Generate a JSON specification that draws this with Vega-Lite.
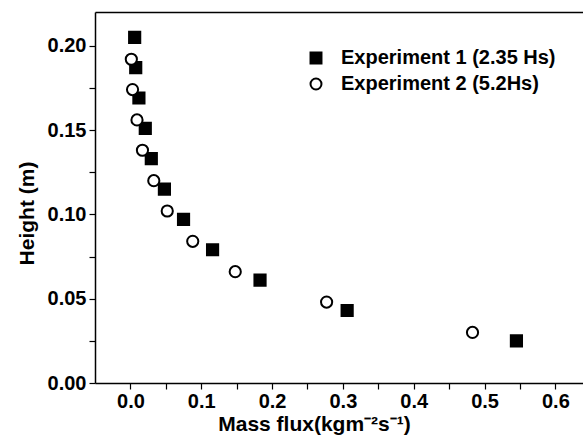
{
  "$schema": "https://vega.github.io/schema/vega-lite/v6.json",
  "autosize": {"type": "none"},
  "width": 488,
  "height": 371,
  "padding": {"left": 95, "top": 12, "right": 0, "bottom": 55},
  "background": "white",
  "config": {
    "view": {"stroke": null},
    "font": "Liberation Sans",
    "axis": {
      "labelFont": "Liberation Sans",
      "labelFontWeight": "bold",
      "labelFontSize": 20,
      "labelColor": "black",
      "titleFont": "Liberation Sans",
      "titleFontWeight": "bold",
      "titleFontSize": 21,
      "titleColor": "black",
      "domainColor": "black",
      "domainWidth": 1.5,
      "ticks": true,
      "tickColor": "black",
      "tickOpacity": 1,
      "tickWidth": 1.2,
      "grid": false
    },
    "legend": {
      "labelFont": "Liberation Sans",
      "labelFontWeight": "bold",
      "labelFontSize": 20,
      "labelColor": "black",
      "labelLimit": 0
    }
  },
  "data": {
    "values": [
      {"series": "Experiment 1 (2.35 Hs)", "flux": 0.006, "height": 0.205},
      {"series": "Experiment 1 (2.35 Hs)", "flux": 0.0075, "height": 0.187},
      {"series": "Experiment 1 (2.35 Hs)", "flux": 0.012, "height": 0.169},
      {"series": "Experiment 1 (2.35 Hs)", "flux": 0.021, "height": 0.151},
      {"series": "Experiment 1 (2.35 Hs)", "flux": 0.0295, "height": 0.133},
      {"series": "Experiment 1 (2.35 Hs)", "flux": 0.048, "height": 0.115},
      {"series": "Experiment 1 (2.35 Hs)", "flux": 0.075, "height": 0.097},
      {"series": "Experiment 1 (2.35 Hs)", "flux": 0.116, "height": 0.079},
      {"series": "Experiment 1 (2.35 Hs)", "flux": 0.183, "height": 0.061},
      {"series": "Experiment 1 (2.35 Hs)", "flux": 0.306, "height": 0.043},
      {"series": "Experiment 1 (2.35 Hs)", "flux": 0.545, "height": 0.025},
      {"series": "Experiment 2 (5.2Hs)", "flux": 0.0013, "height": 0.192},
      {"series": "Experiment 2 (5.2Hs)", "flux": 0.003, "height": 0.174},
      {"series": "Experiment 2 (5.2Hs)", "flux": 0.0093, "height": 0.156},
      {"series": "Experiment 2 (5.2Hs)", "flux": 0.017, "height": 0.138},
      {"series": "Experiment 2 (5.2Hs)", "flux": 0.033, "height": 0.12},
      {"series": "Experiment 2 (5.2Hs)", "flux": 0.052, "height": 0.102},
      {"series": "Experiment 2 (5.2Hs)", "flux": 0.088, "height": 0.084},
      {"series": "Experiment 2 (5.2Hs)", "flux": 0.148, "height": 0.066},
      {"series": "Experiment 2 (5.2Hs)", "flux": 0.277, "height": 0.048},
      {"series": "Experiment 2 (5.2Hs)", "flux": 0.483, "height": 0.03}
    ]
  },
  "layer": [
    {
      "mark": {"type": "point", "strokeWidth": 2, "opacity": 1},
      "encoding": {
        "x": {
          "field": "flux", "type": "quantitative",
          "scale": {"domain": [-0.05, 0.639], "nice": false, "zero": false},
          "axis": {
            "orient": "bottom",
            "title": "Mass flux(kgm⁻²s⁻¹)",
            "titleX": 219,
            "values": [0, 0.05, 0.1, 0.15, 0.2, 0.25, 0.3, 0.35, 0.4, 0.45, 0.5, 0.55, 0.6],
            "labelExpr": "abs(datum.value*10 - round(datum.value*10)) < 0.001 ? format(datum.value, '.1f') : ''",
            "tickSize": 6,
            "labelPadding": 2,
            "titlePadding": 2,
            "labelFlush": false,
            "labelOverlap": false,
            "encode": {"ticks": {"update": {"y2": {"signal": "abs(datum.value*10 - round(datum.value*10)) < 0.001 ? -6 : -3"}}}}
          }
        },
        "y": {
          "field": "height", "type": "quantitative",
          "scale": {"domain": [0, 0.22], "nice": false},
          "axis": {
            "title": "Height (m)",
            "titleY": 201,
            "values": [0, 0.025, 0.05, 0.075, 0.1, 0.125, 0.15, 0.175, 0.2],
            "labelExpr": "abs(datum.value*20 - round(datum.value*20)) < 0.001 ? format(datum.value, '.2f') : ''",
            "tickSize": 6,
            "labelPadding": 3,
            "titlePadding": 10,
            "labelFlush": false,
            "labelOverlap": false,
            "encode": {"ticks": {"update": {"x2": {"signal": "abs(datum.value*20 - round(datum.value*20)) < 0.001 ? 6 : 5"}}}}
          }
        },
        "shape": {
          "field": "series", "type": "nominal",
          "scale": {"domain": ["Experiment 1 (2.35 Hs)", "Experiment 2 (5.2Hs)"], "range": ["square", "circle"]},
          "legend": {
            "title": null,
            "orient": "none",
            "legendX": 211,
            "legendY": 36,
            "symbolSize": 120,
            "symbolStrokeWidth": 2,
            "rowPadding": 6,
            "labelOffset": 15,
            "labelLimit": 0,
            "padding": 0
          }
        },
        "fill": {
          "field": "series", "type": "nominal",
          "scale": {"domain": ["Experiment 1 (2.35 Hs)", "Experiment 2 (5.2Hs)"], "range": ["black", "white"]},
          "legend": {
            "title": null,
            "orient": "none",
            "legendX": 211,
            "legendY": 36,
            "symbolSize": 120,
            "symbolStrokeWidth": 2,
            "rowPadding": 6,
            "labelOffset": 15,
            "labelLimit": 0,
            "padding": 0
          }
        },
        "stroke": {
          "field": "series", "type": "nominal",
          "scale": {"domain": ["Experiment 1 (2.35 Hs)", "Experiment 2 (5.2Hs)"], "range": ["black", "black"]},
          "legend": {
            "title": null,
            "orient": "none",
            "legendX": 211,
            "legendY": 36,
            "symbolSize": 120,
            "symbolStrokeWidth": 2,
            "rowPadding": 6,
            "labelOffset": 15,
            "labelLimit": 0,
            "padding": 0
          }
        },
        "size": {"value": 125}
      }
    },
    {
      "mark": {"type": "point", "opacity": 0},
      "encoding": {
        "x": {
          "field": "flux", "type": "quantitative",
          "axis": {"orient": "top", "labels": false, "ticks": false, "title": null, "domainWidth": 1.5}
        },
        "y": {"field": "height", "type": "quantitative"}
      }
    }
  ],
  "resolve": {"axis": {"x": "independent"}}
}
